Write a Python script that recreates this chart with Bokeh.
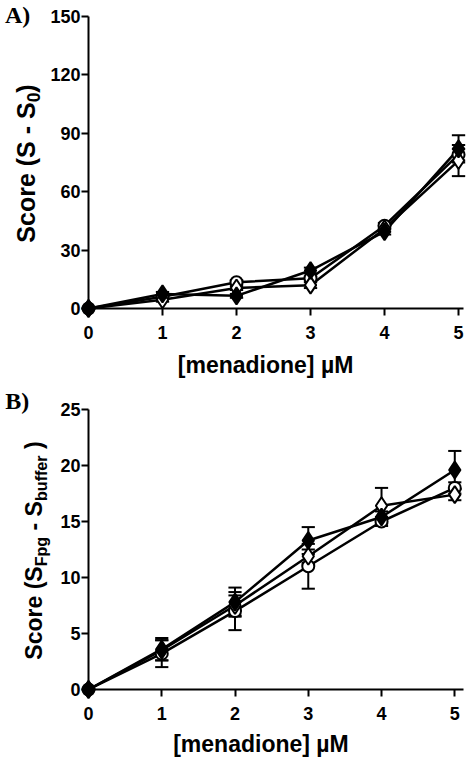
import math
from bokeh.plotting import figure
from bokeh.models import Range1d, FixedTicker
from bokeh.core.properties import value
from bokeh.layouts import column
from bokeh.embed import file_html
from bokeh.resources import INLINE

# ---------------- data ----------------
dose = [0, 1, 2, 3, 4, 5]
x_ticks = [0, 1, 2, 3, 4, 5]

# Panel A: Score (S - S0)
a_filled_diamond = [0, 7.5, 6.5, 19.5, 39.5, 82.0]
a_filled_diamond_err = [0, 1.0, 1.0, 1.5, 1.5, 7.0]
a_open_circle = [0, 6.0, 13.5, 15.5, 42.5, 79.0]
a_open_circle_err = [0, 1.0, 1.0, 1.0, 1.5, 3.0]
a_open_diamond = [0, 4.5, 10.5, 12.0, 41.0, 76.0]
a_open_diamond_err = [0, 1.0, 1.0, 1.5, 1.5, 8.0]
a_y_ticks = [0, 30, 60, 90, 120, 150]

# Panel B: Score (S_Fpg - S_buffer)
b_filled_diamond = [0, 3.6, 7.8, 13.3, 15.4, 19.6]
b_filled_diamond_err = [0, 1.0, 1.3, 1.2, 0.5, 1.7]
b_open_circle = [0, 3.2, 7.0, 11.0, 15.0, 18.0]
b_open_circle_err = [0, 1.2, 1.7, 2.0, 0.4, 0.5]
b_open_diamond = [0, 3.5, 7.5, 11.9, 16.4, 17.4]
b_open_diamond_err = [0, 0.9, 0.9, 0.6, 1.6, 0.5]
b_y_ticks = [0, 5, 10, 15, 20, 25]

x_title = "[menadione] \u00b5M"

FONT = "Liberation Sans"
SERIF = "Liberation Serif"
W = 475
MID = 0.35  # distance baseline -> em-box middle, in em
NB = "\u00a0"

# Arial-bold advance widths (per 1000 em) for title layout
ADV = {'S': 667, 'c': 556, 'o': 611, 'r': 389, 'e': 556, ' ': 278, NB: 278, '(': 333,
       ')': 333, '-': 333, '0': 556, 'F': 611, 'p': 611, 'g': 611, 'b': 611,
       'u': 611, 'f': 333}


def text_w(s, fs):
    return sum(ADV.get(ch, 556) for ch in s) * fs / 1000.0


def make_panel(height, left, right, top, bottom, kx, ymax, yticks,
               series, tag, tag_px, ytitle_runs, ytitle_fs, ytitle_base_px, ytitle_center_px,
               xtitle_center_px, xtitle_base_px):
    frame_w = W - left - right
    frame_h = height - top - bottom
    xmax = frame_w / kx
    ky = frame_h / ymax
    p = figure(width=W, height=height, output_backend="svg", toolbar_location=None,
               x_range=Range1d(0, xmax), y_range=Range1d(0, ymax),
               min_border_left=left, min_border_right=right,
               min_border_top=top, min_border_bottom=bottom)
    p.outline_line_color = None
    p.xgrid.visible = False
    p.ygrid.visible = False
    p.background_fill_color = "white"
    p.border_fill_color = "white"
    for ax, ticks in ((p.xaxis[0], x_ticks), (p.yaxis[0], yticks)):
        ax.ticker = FixedTicker(ticks=ticks)
        ax.axis_line_width = 2
        ax.axis_line_color = "black"
        ax.major_tick_line_width = 2
        ax.major_tick_line_color = "black"
        ax.major_tick_out = 7
        ax.major_tick_in = 0
        ax.minor_tick_line_color = None
        ax.major_label_text_font = FONT
        ax.major_label_text_font_style = "bold"
        ax.major_label_text_font_size = "18px"
        ax.major_label_text_color = "black"
    p.xaxis[0].major_label_standoff = 10
    p.yaxis[0].major_label_standoff = 1

    def dx(px):  # figure px -> data x
        return (px - left) / kx

    def dy(py):  # figure px (from top) -> data y
        return ymax - (py - top) / ky

    cap = 0.09
    # error bars
    for vals, errs, _m, _f in series:
        lo = [v - e for v, e in zip(vals, errs)]
        hi = [v + e for v, e in zip(vals, errs)]
        p.segment(x0=dose, y0=lo, x1=dose, y1=hi, line_color="black", line_width=2, level="overlay")
        p.segment(x0=[d - cap for d in dose], y0=hi, x1=[d + cap for d in dose], y1=hi,
                  line_color="black", line_width=2, level="overlay")
        p.segment(x0=[d - cap for d in dose], y0=lo, x1=[d + cap for d in dose], y1=lo,
                  line_color="black", line_width=2, level="overlay")
    # lines
    for vals, errs, _m, _f in series:
        p.line(dose, vals, line_color="black", line_width=2.5, level="overlay")
    # markers
    for vals, errs, marker, fill in series:
        size = 12 if marker == "circle" else 17
        p.scatter(dose, vals, marker=marker, size=size, fill_color=fill,
                  line_color="black", line_width=2, level="overlay")

    # panel tag
    p.text(x=[dx(tag_px[0])], y=[dy(tag_px[1])], text=[tag], text_font=value(SERIF),
           text_font_style="bold", text_font_size=value("24px"), text_align="left",
           text_baseline="top", text_color="black", level="overlay")

    # x title (placed by the middle of its em box)
    xfs = 23
    p.text(x=[dx(xtitle_center_px)], y=[dy(xtitle_base_px - MID * xfs)], text=[x_title],
           text_font=value(FONT), text_font_style="bold", text_font_size=value(f"{xfs}px"),
           text_align="center", text_baseline="middle", text_color="black",
           level="overlay")

    # y title (rotated, built from runs to get subscripts)
    total = sum(text_w(t, ytitle_fs * sc) for t, sc, sh in ytitle_runs)
    start_px = ytitle_center_px + total / 2.0  # bottom end (px from top)
    off = 0.0
    for t, sc, sh in ytitle_runs:
        fs = ytitle_fs * sc
        ypx = start_px - off
        base = ytitle_base_px + sh * ytitle_fs
        xpx = base - MID * fs
        p.text(x=[dx(xpx)], y=[dy(ypx)], text=[t], angle=math.pi / 2,
               text_font=value(FONT), text_font_style="bold",
               text_font_size=value(f"{fs:.1f}px"), text_align="left",
               text_baseline="middle", text_color="black", level="overlay")
        off += text_w(t, fs)
    return p


series_a = [
    (a_open_circle, a_open_circle_err, "circle", "white"),
    (a_open_diamond, a_open_diamond_err, "diamond", "white"),
    (a_filled_diamond, a_filled_diamond_err, "diamond", "black"),
]
series_b = [
    (b_open_circle, b_open_circle_err, "circle", "white"),
    (b_open_diamond, b_open_diamond_err, "diamond", "white"),
    (b_filled_diamond, b_filled_diamond_err, "diamond", "black"),
]

runs_a = [("Score (S - S", 1.0, 0.0), ("0", 0.7, 0.2), (")", 1.0, 0.0)]
runs_b = [("Score (S", 1.0, 0.0), ("Fpg", 0.7, 0.2), (NB + "-" + NB + "S", 1.0, 0.0),
          ("buffer", 0.7, 0.2), (NB + ")", 1.0, 0.0)]

pA = make_panel(height=384, left=86, right=12, top=16, bottom=76, kx=74.4,
                ymax=150, yticks=a_y_ticks, series=series_a, tag="A)", tag_px=(2, 1),
                ytitle_runs=runs_a, ytitle_fs=25, ytitle_base_px=32, ytitle_center_px=163,
                xtitle_center_px=264, xtitle_base_px=373)
pB = make_panel(height=376, left=88, right=0, top=25, bottom=71, kx=75.6,
                ymax=25, yticks=b_y_ticks, series=series_b, tag="B)", tag_px=(2, 3),
                ytitle_runs=runs_b, ytitle_fs=23, ytitle_base_px=40, ytitle_center_px=166,
                xtitle_center_px=266, xtitle_base_px=368)

layout = column(pA, pB)
open("out.html", "w").write(file_html(layout, INLINE))
